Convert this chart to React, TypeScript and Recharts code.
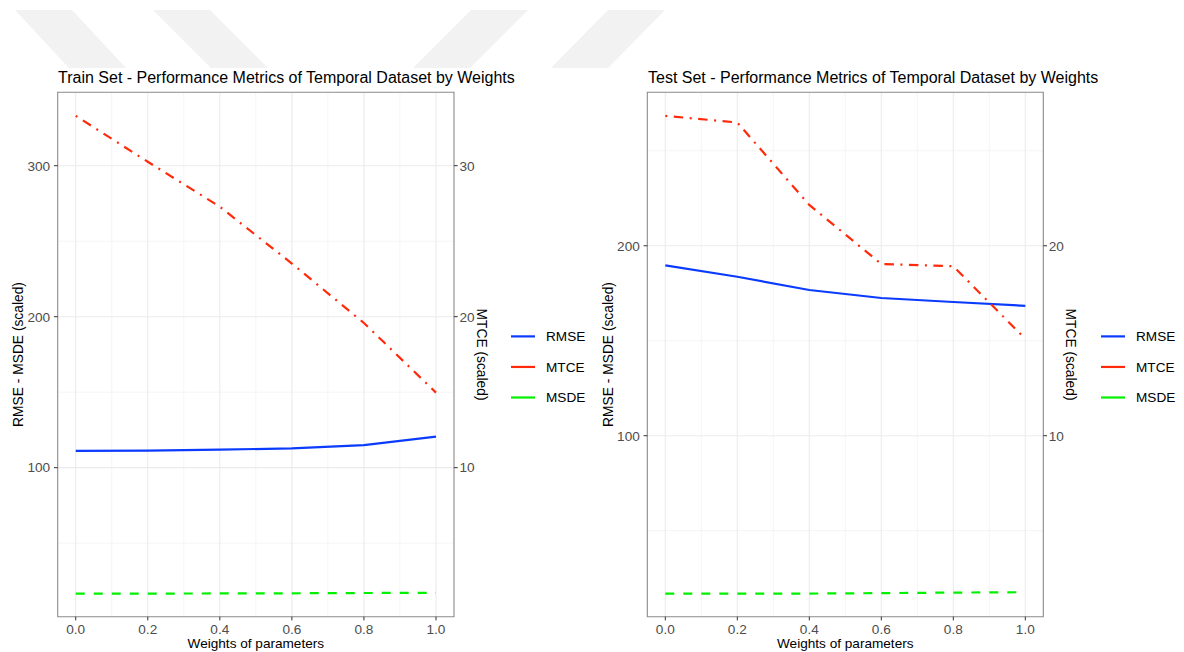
import React from 'react';
import { LineChart, Line, XAxis, YAxis, CartesianGrid, Label, ReferenceArea } from 'recharts';

// ---------- data ----------
const weights = [0, 0.2, 0.4, 0.6, 0.8, 1.0];
const xTicks = [0, 0.2, 0.4, 0.6, 0.8, 1.0];
const xMinor = [0.1, 0.3, 0.5, 0.7, 0.9];

const seriesNames = ['RMSE', 'MTCE', 'MSDE'];

const trainRMSE = [111.1, 111.3, 111.9, 112.8, 114.9, 120.6];
const trainMTCE = [33.3, 30.26, 27.28, 23.52, 19.58, 14.97];
const trainMSDE = [16.6, 16.6, 16.7, 16.8, 17.0, 17.1];

const testRMSE = [189.7, 183.7, 176.7, 172.5, 170.4, 168.4];
const testMTCE = [26.84, 26.49, 22.15, 19.04, 18.92, 15.1];
const testMSDE = [16.8, 16.8, 16.9, 17.1, 17.4, 17.6];

const trainLeftTicks = [100, 200, 300];
const trainRightTicks = [10, 20, 30];
const trainMinorTicks = [50, 150, 250];
const trainLeftDomain = [1.3, 348.6];
const trainRightDomain = [0.13, 34.86];

const testLeftTicks = [100, 200];
const testRightTicks = [10, 20];
const testMinorTicks = [50, 150, 250];
const testLeftDomain = [4.7, 280.8];
const testRightDomain = [0.47, 28.08];

const trainTitle = 'Train Set - Performance Metrics of Temporal Dataset by Weights';
const testTitle = 'Test Set - Performance Metrics of Temporal Dataset by Weights';
const xTitle = 'Weights of parameters';
const leftTitle = 'RMSE - MSDE (scaled)';
const rightTitle = 'MTCE (scaled)';

// ---------- styles ----------
const FONT = '"Liberation Sans", Arial, Helvetica, sans-serif';
const COLORS: Record<string, string> = { RMSE: '#0b3bff', MTCE: '#ff2a0a', MSDE: '#00f000' };
const DASH: Record<string, string | undefined> = { RMSE: undefined, MTCE: '2 6.5 9.5 6.5', MSDE: '9 9' };
const TICK_STYLE = { fontSize: 13.6, fill: '#4d4d4d', fontFamily: FONT };

function buildRows(r: number[], m: number[], s: number[]) {
  return weights.map((w, i) => ({ w, RMSE: r[i], MTCE: m[i], MSDE: s[i] }));
}
const trainRows = buildRows(trainRMSE, trainMTCE, trainMSDE);
const testRows = buildRows(testRMSE, testMTCE, testMSDE);

type PanelProps = {
  rows: any[];
  leftTicks: number[];
  rightTicks: number[];
  minorTicks: number[];
  leftDomain: number[];
  rightDomain: number[];
  width: number;
  leftW: number;
  marginRight: number;
};

function Panel(p: PanelProps) {
  return (
    <LineChart
      width={p.width}
      height={652}
      data={p.rows}
      margin={{ top: 92.3, right: p.marginRight, bottom: 0, left: 0 }}
    >
      <CartesianGrid
        xAxisId="x"
        yAxisId="left"
        horizontalValues={p.minorTicks}
        verticalValues={xMinor}
        stroke="#f3f3f3"
        strokeWidth={0.8}
      />
      <CartesianGrid
        xAxisId="x"
        yAxisId="left"
        horizontalValues={p.leftTicks}
        verticalValues={xTicks}
        stroke="#ebebeb"
        strokeWidth={1.1}
      />
      <XAxis
        xAxisId="x"
        dataKey="w"
        type="number"
        domain={[-0.05, 1.05]}
        ticks={xTicks}
        allowDataOverflow
        tickFormatter={(v: number) => v.toFixed(1)}
        height={35.3}
        tickSize={3.7}
        tickMargin={4.1}
        axisLine={false}
        tickLine={{ stroke: '#333333' }}
        tick={TICK_STYLE}
        interval={0}
      >
        <Label
          content={(lp: any) => {
            const vb = lp.viewBox || {};
            return (
              <text
                x={vb.x + vb.width / 2}
                y={vb.y + 30.8}
                textAnchor="middle"
                fontSize={13.6}
                fontFamily={FONT}
                fill="#000"
              >
                {xTitle}
              </text>
            );
          }}
        />
      </XAxis>
      <YAxis
        yAxisId="left"
        orientation="left"
        type="number"
        domain={p.leftDomain}
        ticks={p.leftTicks}
        allowDataOverflow
        width={p.leftW}
        tickSize={3.7}
        tickMargin={3.8}
        axisLine={false}
        tickLine={{ stroke: '#333333' }}
        tick={TICK_STYLE}
        interval={0}
      >
        <Label
          content={(lp: any) => {
            const vb = lp.viewBox || {};
            const cx = vb.x + 18.3;
            const cy = vb.y + vb.height / 2;
            return (
              <text
                x={cx}
                y={cy}
                dy="0.35em"
                transform={`rotate(-90, ${cx}, ${cy})`}
                textAnchor="middle"
                fontSize={13.8}
                fontFamily={FONT}
                fill="#000"
              >
                {leftTitle}
              </text>
            );
          }}
        />
      </YAxis>
      <YAxis
        yAxisId="right"
        orientation="right"
        type="number"
        domain={p.rightDomain}
        ticks={p.rightTicks}
        allowDataOverflow
        width={40}
        tickSize={3.7}
        tickMargin={1.8}
        axisLine={false}
        tickLine={{ stroke: '#333333' }}
        tick={TICK_STYLE}
        interval={0}
      >
        <Label
          content={(lp: any) => {
            const vb = lp.viewBox || {};
            const cx = vb.x + 28;
            const cy = vb.y + vb.height / 2;
            return (
              <text
                x={cx}
                y={cy}
                dy="0.35em"
                transform={`rotate(90, ${cx}, ${cy})`}
                textAnchor="middle"
                fontSize={13.8}
                fontFamily={FONT}
                fill="#000"
              >
                {rightTitle}
              </text>
            );
          }}
        />
      </YAxis>
      <Line
        xAxisId="x"
        yAxisId="left"
        type="linear"
        dataKey="RMSE"
        stroke={COLORS.RMSE}
        strokeWidth={2.2}
        dot={false}
        activeDot={false}
        isAnimationActive={false}
      />
      <Line
        xAxisId="x"
        yAxisId="right"
        type="linear"
        dataKey="MTCE"
        stroke={COLORS.MTCE}
        strokeWidth={2.2}
        strokeDasharray={DASH.MTCE}
        dot={false}
        activeDot={false}
        isAnimationActive={false}
      />
      <Line
        xAxisId="x"
        yAxisId="left"
        type="linear"
        dataKey="MSDE"
        stroke={COLORS.MSDE}
        strokeWidth={2.2}
        strokeDasharray={DASH.MSDE}
        dot={false}
        activeDot={false}
        isAnimationActive={false}
      />
      <ReferenceArea
        xAxisId="x"
        yAxisId="left"
        x1={-0.05}
        x2={1.05}
        y1={p.leftDomain[0]}
        y2={p.leftDomain[1]}
        fill="none"
        fillOpacity={0}
        stroke="#8a8a8a"
        strokeWidth={1.1}
        ifOverflow="visible"
      />
    </LineChart>
  );
}

function Legend({ x, y }: { x: number; y: number }) {
  return (
    <g>
      {seriesNames.map((n, i) => (
        <g key={n}>
          <line x1={x} x2={x + 24} y1={y + i * 30.55} y2={y + i * 30.55} stroke={COLORS[n]} strokeWidth={2.2} />
          <text x={x + 35} y={y + i * 30.55} dy="0.36em" fontSize={13.6} fontFamily={FONT} fill="#000">
            {n}
          </text>
        </g>
      ))}
    </g>
  );
}

export default function App() {
  return (
    <div
      style={{
        position: 'absolute',
        left: 0,
        top: 0,
        width: 1184,
        height: 652,
        background: '#ffffff',
        overflow: 'hidden',
        fontFamily: FONT,
      }}
    >
      <svg width={1184} height={652} style={{ position: 'absolute', left: 0, top: 0 }}>
        <polygon points="15,10 72,10 126,68 69,68" fill="#f2f2f2" />
        <polygon points="153,10 210,10 268,68 211,68" fill="#f2f2f2" />
        <polygon points="528,10 471,10 413,68 470,68" fill="#f2f2f2" />
        <polygon points="665,10 608,10 551,68 608,68" fill="#f2f2f2" />
      </svg>
      <div style={{ position: 'absolute', left: 0, top: 0 }}>
        <Panel
          rows={trainRows}
          leftTicks={trainLeftTicks}
          rightTicks={trainRightTicks}
          minorTicks={trainMinorTicks}
          leftDomain={trainLeftDomain}
          rightDomain={trainRightDomain}
          width={590}
          leftW={57.7}
          marginRight={96}
        />
      </div>
      <div style={{ position: 'absolute', left: 590, top: 0 }}>
        <Panel
          rows={testRows}
          leftTicks={testLeftTicks}
          rightTicks={testRightTicks}
          minorTicks={testMinorTicks}
          leftDomain={testLeftDomain}
          rightDomain={testRightDomain}
          width={594}
          leftW={57.3}
          marginRight={100.7}
        />
      </div>
      <svg width={1184} height={652} style={{ position: 'absolute', left: 0, top: 0, pointerEvents: 'none' }}>
        <text x={58} y={83.3} fontSize={16.0} fontFamily={FONT} fill="#000">
          {trainTitle}
        </text>
        <text x={648} y={83.3} fontSize={16.0} fontFamily={FONT} fill="#000">
          {testTitle}
        </text>
        <Legend x={511} y={336.4} />
        <Legend x={1101} y={336.4} />
      </svg>
    </div>
  );
}
